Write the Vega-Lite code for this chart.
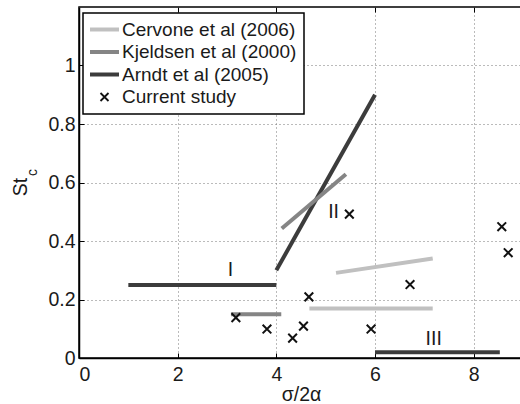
{
  "$schema": "https://vega.github.io/schema/vega-lite/v6.json",
  "autosize": "none",
  "width": 444,
  "height": 351,
  "padding": {"left": 79, "top": 7, "right": 0, "bottom": 52},
  "background": "white",
  "config": {
    "font": "Liberation Sans",
    "view": {"stroke": "black", "strokeWidth": 1.5},
    "axis": {
      "domainColor": "black", "domainWidth": 1.5,
      "tickColor": "black", "tickWidth": 1, "tickSize": -5,
      "labelFontSize": 19.5, "labelColor": "#1a1a1a", "labelFont": "Liberation Sans",
      "titleFontSize": 19.5, "titleColor": "#1a1a1a", "titleFont": "Liberation Sans", "titleFontWeight": "normal",
      "gridColor": "#777777", "gridDash": [1, 3], "gridWidth": 1
    }
  },
  "datasets": {
    "lines": [
      {"series": "Arndt et al (2005)", "seg": "a1", "x": 1.0, "y": 0.25},
      {"series": "Arndt et al (2005)", "seg": "a1", "x": 4.0, "y": 0.25},
      {"series": "Arndt et al (2005)", "seg": "a2", "x": 4.0, "y": 0.30},
      {"series": "Arndt et al (2005)", "seg": "a2", "x": 6.0, "y": 0.90},
      {"series": "Arndt et al (2005)", "seg": "a3", "x": 6.0, "y": 0.02},
      {"series": "Arndt et al (2005)", "seg": "a3", "x": 8.53, "y": 0.02},
      {"series": "Kjeldsen et al (2000)", "seg": "k1", "x": 3.08, "y": 0.15},
      {"series": "Kjeldsen et al (2000)", "seg": "k1", "x": 4.1, "y": 0.15},
      {"series": "Kjeldsen et al (2000)", "seg": "k2", "x": 4.11, "y": 0.443},
      {"series": "Kjeldsen et al (2000)", "seg": "k2", "x": 5.41, "y": 0.628},
      {"series": "Cervone et al (2006)", "seg": "c1", "x": 4.67, "y": 0.169},
      {"series": "Cervone et al (2006)", "seg": "c1", "x": 7.17, "y": 0.169},
      {"series": "Cervone et al (2006)", "seg": "c2", "x": 5.21, "y": 0.291},
      {"series": "Cervone et al (2006)", "seg": "c2", "x": 7.17, "y": 0.34}
    ],
    "pts": [
      {"series": "Current study", "x": 3.18, "y": 0.138},
      {"series": "Current study", "x": 3.81, "y": 0.099},
      {"series": "Current study", "x": 4.33, "y": 0.068},
      {"series": "Current study", "x": 4.55, "y": 0.109},
      {"series": "Current study", "x": 4.66, "y": 0.209},
      {"series": "Current study", "x": 5.48, "y": 0.492},
      {"series": "Current study", "x": 5.92, "y": 0.099},
      {"series": "Current study", "x": 6.71, "y": 0.251},
      {"series": "Current study", "x": 8.57, "y": 0.449},
      {"series": "Current study", "x": 8.70, "y": 0.36}
    ],
    "labels": [
      {"text": "I", "x": 3.07, "y": 0.30},
      {"text": "II", "x": 5.16, "y": 0.50},
      {"text": "III", "x": 7.19, "y": 0.066}
    ]
  },
  "resolve": {"axis": {"x": "independent", "y": "independent"}},
  "layer": [
    {
      "data": {"name": "lines"},
      "mark": {"type": "line", "strokeWidth": 4, "strokeCap": "butt"},
      "encoding": {
        "x": {"field": "x", "type": "quantitative",
              "scale": {"domain": [0, 9], "nice": false, "zero": false},
              "axis": {"values": [0, 2, 4, 6, 8], "title": "σ/2α", "grid": true, "labelPadding": 12, "titlePadding": 2, "labelExpr": "'' + datum.value"}},
        "y": {"field": "y", "type": "quantitative",
              "scale": {"domain": [0, 1.2], "nice": false, "zero": false},
              "axis": {"values": [0, 0.2, 0.4, 0.6, 0.8, 1], "title": "St", "grid": true, "labelPadding": 9,
                       "labelExpr": "'' + datum.value", "titleX": -49, "titleY": 179.5, "titleBaseline": "bottom", "titleAngle": -90}},
        "color": {"field": "series", "type": "nominal",
                  "scale": {"domain": ["Cervone et al (2006)", "Kjeldsen et al (2000)", "Arndt et al (2005)", "Current study"],
                            "range": ["#c0c0c0", "#858585", "#3c3c3c", "#111111"]},
                  "legend": {
                    "title": null, "orient": "none", "legendX": 4, "legendY": 6,
                    "fillColor": "white", "strokeColor": "black",
                    "padding": 7, "rowPadding": 2.5, "symbolSize": 841, "symbolOffset": 5, "labelOffset": 8,
                    "labelFontSize": 19, "labelFont": "Liberation Sans", "labelColor": "#1a1a1a", "labelLimit": 300,
                    "encode": {
                      "legend": {"update": {"strokeWidth": {"value": 1.5}}},
                      "symbols": {"update": {
                        "shape": {"signal": "datum.value === 'Current study' ? 'M-1,-1L1,1M1,-1L-1,1' : 'stroke'"},
                        "size": {"signal": "datum.value === 'Current study' ? 64 : 841"},
                        "strokeWidth": {"signal": "datum.value === 'Current study' ? 1.8 : 4"},
                        "stroke": {"scale": "color", "field": "value"},
                        "fill": {"value": "transparent"},
                        "opacity": {"value": 1}
                      }}
                    }
                  }},
        "detail": {"field": "seg", "type": "nominal"}
      }
    },
    {
      "data": {"name": "pts"},
      "mark": {"type": "point", "shape": "M-1,-1L1,1M1,-1L-1,1", "size": 75, "strokeWidth": 2, "filled": false, "opacity": 1},
      "encoding": {
        "x": {"field": "x", "type": "quantitative", "axis": null},
        "y": {"field": "y", "type": "quantitative", "axis": null},
        "color": {"field": "series", "type": "nominal"}
      }
    },
    {
      "data": {"name": "labels"},
      "mark": {"type": "text", "fontSize": 19.5, "font": "Liberation Sans", "color": "#1a1a1a", "baseline": "middle", "align": "center"},
      "encoding": {
        "x": {"field": "x", "type": "quantitative",
              "axis": {"orient": "top", "values": [2, 4, 6, 8], "labels": false, "domain": false, "grid": false, "title": null, "tickSize": -5}},
        "y": {"field": "y", "type": "quantitative",
              "axis": {"orient": "left", "values": [0.2], "labels": false, "ticks": false, "domain": false, "grid": false,
                       "title": "c", "titleFontSize": 14, "titleX": -40, "titleY": 165, "titleBaseline": "bottom", "titleAngle": -90}},
        "text": {"field": "text"}
      }
    }
  ]
}
